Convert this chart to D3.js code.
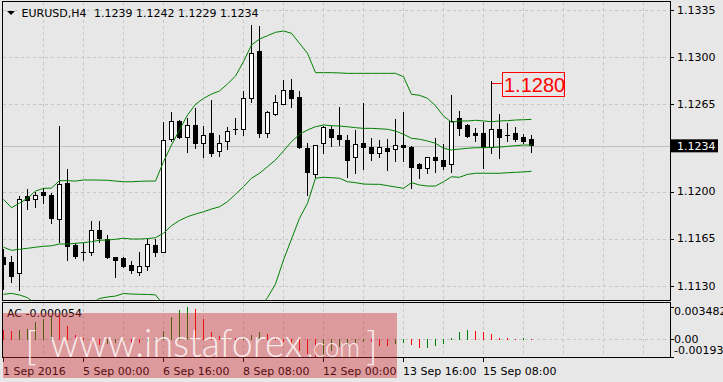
<!DOCTYPE html>
<html>
<head>
<meta charset="utf-8">
<script src="https://cdn.jsdelivr.net/npm/d3@7"></script>
<style>
html, body { margin: 0; padding: 0; background: #e7e7e7; overflow: hidden; }
svg { display: block; font-family: "DejaVu Sans", sans-serif; font-size: 11px; }
</style>
</head>
<body>
<script>
// EURUSD H4 candles, 1 Sep .. 16 Sep 2016
const openP = [1.1151,1.1147,1.1139,1.1196,1.1194,1.1199,1.1197,1.1179,1.1206,1.1160,
  1.1155,1.1155,1.1171,1.1164,1.1151,1.1150,1.1145,1.1140,1.1144,1.1160,
  1.1155,1.1239,1.1252,1.1240,1.1249,1.1236,1.1243,1.1230,1.1237,1.1246,
  1.1246,1.1269,1.1304,1.1243,1.1257,1.1265,1.1275,1.1270,1.1232,1.1213,
  1.1236,1.1246,1.1242,1.1238,1.1225,1.1236,1.1233,1.1228,1.1232,1.1231,
  1.1234,1.1233,1.1220,1.1217,1.1225,1.1223,1.1220,1.1254,1.1249,1.1243,
  1.1243,1.1233,1.1246,1.1242,1.1243,1.1240,1.1239];
const highP = [1.1157,1.1152,1.1197,1.1202,1.1200,1.1203,1.1199,1.1249,1.1217,1.1162,
  1.1162,1.1178,1.1178,1.1168,1.1151,1.1151,1.1148,1.1155,1.1165,1.1165,
  1.1252,1.1259,1.1253,1.1255,1.1262,1.1249,1.1268,1.1242,1.1248,1.1255,
  1.1275,1.1324,1.1323,1.1260,1.1272,1.1283,1.1284,1.1275,1.1236,1.1234,
  1.1249,1.1249,1.1263,1.1242,1.1246,1.1266,1.1240,1.1238,1.1239,1.1254,
  1.1259,1.1234,1.1221,1.1226,1.1240,1.1235,1.1272,1.1260,1.1250,1.1247,
  1.1252,1.1282,1.1258,1.1251,1.1248,1.1243,1.1242];
const lowP = [1.1127,1.1132,1.1126,1.1186,1.1188,1.1191,1.1176,1.1162,1.1148,1.1150,
  1.1148,1.1152,1.1162,1.1150,1.1136,1.1143,1.1139,1.1137,1.1141,1.1151,
  1.1155,1.1237,1.1239,1.1229,1.1232,1.1225,1.1226,1.1226,1.1231,1.1242,
  1.1241,1.1266,1.1240,1.1240,1.1256,1.1264,1.1262,1.1232,1.1197,1.1210,
  1.1228,1.1233,1.1234,1.1210,1.1213,1.1216,1.1223,1.1225,1.1215,1.1222,
  1.1222,1.1202,1.1209,1.1213,1.1214,1.1216,1.1214,1.1241,1.1240,1.1237,
  1.1217,1.1228,1.1224,1.1237,1.1237,1.1235,1.1229];
const closeP = [1.1146,1.1137,1.1194,1.1193,1.1197,1.1197,1.1180,1.1205,1.1159,1.1152,
  1.1155,1.1171,1.1165,1.1151,1.1149,1.1144,1.1141,1.1144,1.1161,1.1155,
  1.1238,1.1252,1.1240,1.1249,1.1236,1.1242,1.1228,1.1236,1.1245,1.1246,
  1.1269,1.1303,1.1243,1.1259,1.1266,1.1275,1.1269,1.1233,1.1214,1.1234,
  1.1248,1.1240,1.1239,1.1223,1.1235,1.1233,1.1228,1.1233,1.1230,1.1234,
  1.1233,1.1218,1.1217,1.1225,1.1223,1.1219,1.1252,1.1247,1.1241,1.1242,
  1.1233,1.1246,1.1240,1.1242,1.1239,1.1237,1.1234];

// Bollinger bands
const bbUpper = [1.11942,1.11880,1.11913,1.11950,1.12004,1.12024,1.12026,1.12081,1.12081,1.12078,
  1.12086,1.12086,1.12085,1.12084,1.12078,1.12073,1.12073,1.12076,1.12078,1.12078,
  1.12222,1.12346,1.12458,1.12569,1.12649,1.12693,1.12725,1.12748,1.12800,1.12859,
  1.12966,1.13090,1.13134,1.13159,1.13184,1.13194,1.13177,1.13102,1.13028,1.12884,
  1.12884,1.12884,1.12882,1.12879,1.12879,1.12879,1.12879,1.12879,1.12879,1.12879,
  1.12854,1.12723,1.12716,1.12693,1.12638,1.12562,1.12515,1.12525,1.12525,1.12530,
  1.12525,1.12519,1.12525,1.12527,1.12532,1.12534,1.12537];
const bbMiddle = [1.11586,1.11563,1.11571,1.11578,1.11586,1.11593,1.11597,1.11610,1.11610,1.11615,
  1.11620,1.11627,1.11638,1.11640,1.11645,1.11653,1.11647,1.11647,1.11650,1.11657,
  1.11690,1.11746,1.11785,1.11813,1.11833,1.11850,1.11870,1.11887,1.11925,1.11980,
  1.12036,1.12099,1.12136,1.12185,1.12235,1.12302,1.12371,1.12426,1.12458,1.12482,
  1.12495,1.12490,1.12487,1.12482,1.12475,1.12470,1.12470,1.12467,1.12463,1.12450,
  1.12426,1.12396,1.12389,1.12376,1.12359,1.12322,1.12309,1.12316,1.12322,1.12326,
  1.12326,1.12329,1.12331,1.12336,1.12341,1.12346,1.12346];
const bbLower = [1.11236,1.11243,1.11231,1.11211,1.11167,1.11162,1.11171,1.11139,1.11139,1.11151,
  1.11153,1.11168,1.11205,1.11216,1.11223,1.11242,1.11238,1.11236,1.11235,1.11232,
  1.11156,1.11146,1.11112,1.11057,1.11017,1.11007,1.11015,1.11027,1.11049,1.11100,
  1.11107,1.11108,1.11137,1.11211,1.11313,1.11491,1.11647,1.11801,1.11913,1.12099,
  1.12106,1.12103,1.12099,1.12073,1.12066,1.12056,1.12054,1.12054,1.12044,1.12034,
  1.12024,1.12066,1.12049,1.12041,1.12041,1.12073,1.12110,1.12106,1.12128,1.12136,
  1.12136,1.12136,1.12136,1.12140,1.12143,1.12146,1.12151];

// Accelerator oscillator
const acValues = [0.00096,0.00088,0.00090,0.00110,0.00180,0.00215,0.00250,0.00240,0.00135,0.00035,
  0.00010,-0.00050,-0.00055,-0.00045,-0.00040,-0.00020,-0.00035,-0.00040,-0.00030,-0.00005,
  0.00088,0.00230,0.00310,0.003482,0.00320,0.00210,0.00070,0.00025,0.00010,0.00005,
  0.00020,0.00035,0.00070,0.00046,0.00020,-0.00020,-0.00060,-0.00120,-0.00160,-0.00193,
  -0.00165,-0.00120,-0.00080,-0.00060,-0.00040,-0.00025,-0.00030,-0.00064,-0.00070,-0.00042,
  -0.00038,-0.00060,-0.00090,-0.00085,-0.00065,-0.00050,0.00005,0.00070,0.00096,0.00088,
  0.00070,0.00053,0.00010,0.00002,-0.00002,0.00004,-0.000054];

const timeIndex = [0, 10, 20, 30, 40, 50, 60];
const timeLabels = ["1 Sep 2016", "5 Sep 00:00", "6 Sep 16:00", "8 Sep 08:00",
  "12 Sep 00:00", "13 Sep 16:00", "15 Sep 08:00"];
const priceTicks = [1.1335, 1.1300, 1.1265, 1.1200, 1.1165, 1.1130];
const acTicks = [0.003482, 0, -0.00193];
const acTickLabels = ["0.003482", "0.00", "-0.00193"];
const bidPrice = 1.1234;
const markBar = 61;
const markPrice = 1.1280;

const svgWidth = 723, svgHeight = 382;
const left = 2.5, right = 670.5, mainTop = 1.5, mainBottom = 300.5;
const subTop = 302.5, subBottom = 357.5;
const green = "#008000", red = "#ff0000", gridColor = "#c6c6c6";

const svg = d3.select("body").append("svg")
  .attr("width", svgWidth)
  .attr("height", svgHeight);

const x = d3.scaleLinear().domain([0, 83]).range([3.5, 667.5]);
const y = d3.scaleLinear().domain([1.1130, 1.1335]).range([285.7, 10]);
const yAc = d3.scaleLinear().domain([-0.00193, 0.003482]).range([356.5, 306.5]);

const defs = svg.append("defs");
defs.append("clipPath").attr("id", "clipMain").append("rect")
  .attr("x", left).attr("y", mainTop).attr("width", right - left).attr("height", mainBottom - mainTop);
defs.append("clipPath").attr("id", "clipSub").append("rect")
  .attr("x", left).attr("y", subTop).attr("width", right - left).attr("height", subBottom - subTop);

const gridIdx = d3.range(5, 81, 5);

// main panel grid
const main = svg.append("g").attr("clip-path", "url(#clipMain)");
main.selectAll("line.vgrid").data(gridIdx).join("line")
  .attr("class", "vgrid")
  .attr("x1", d => x(d)).attr("x2", d => x(d))
  .attr("y1", mainTop).attr("y2", mainBottom)
  .attr("stroke", gridColor).attr("stroke-dasharray", "3,3")
  .attr("shape-rendering", "crispEdges");
main.selectAll("line.hgrid").data(priceTicks).join("line")
  .attr("class", "hgrid")
  .attr("x1", left).attr("x2", right)
  .attr("y1", d => Math.round(y(d)) + 0.5).attr("y2", d => Math.round(y(d)) + 0.5)
  .attr("stroke", gridColor).attr("stroke-dasharray", "3,3")
  .attr("shape-rendering", "crispEdges");
main.append("line")
  .attr("x1", left).attr("x2", right)
  .attr("y1", Math.round(y(bidPrice)) + 0.5).attr("y2", Math.round(y(bidPrice)) + 0.5)
  .attr("stroke", "#c0c0c0")
  .attr("shape-rendering", "crispEdges");

// candles
const bars = d3.range(openP.length);
const candles = main.selectAll("g.candle").data(bars).join("g").attr("class", "candle")
  .attr("shape-rendering", "crispEdges");
candles.append("line")
  .attr("x1", i => x(i)).attr("x2", i => x(i))
  .attr("y1", i => y(highP[i])).attr("y2", i => y(lowP[i]))
  .attr("stroke", "#000");
candles.filter(i => openP[i] !== closeP[i]).append("rect")
  .attr("x", i => x(i) - 2)
  .attr("width", 4)
  .attr("y", i => y(Math.max(openP[i], closeP[i])))
  .attr("height", i => Math.abs(y(openP[i]) - y(closeP[i])))
  .attr("fill", i => closeP[i] > openP[i] ? "#fff" : "#000")
  .attr("stroke", "#000");
candles.filter(i => openP[i] === closeP[i]).append("line")
  .attr("x1", i => x(i) - 2.5).attr("x2", i => x(i) + 2.5)
  .attr("y1", i => y(openP[i])).attr("y2", i => y(openP[i]))
  .attr("stroke", "#000");

// bollinger bands
const bandLine = d3.line().x((d, i) => x(i)).y(d => y(d));
[bbUpper, bbMiddle, bbLower].forEach(band => {
  main.append("path")
    .attr("d", bandLine(band))
    .attr("fill", "none")
    .attr("stroke", green)
    .attr("stroke-width", 1);
});

// 1.1280 marker
const markY = y(markPrice);
svg.append("line")
  .attr("x1", x(markBar)).attr("x2", 502.5)
  .attr("y1", markY).attr("y2", markY)
  .attr("stroke", red).attr("shape-rendering", "crispEdges");
svg.append("rect")
  .attr("x", 502.5).attr("y", markY - 11.5)
  .attr("width", 62).attr("height", 24)
  .attr("fill", "none").attr("stroke", red)
  .attr("shape-rendering", "crispEdges");
svg.append("text")
  .attr("x", 504).attr("y", markY + 7.8)
  .attr("font-family", "'Liberation Sans', Arial, sans-serif")
  .attr("font-size", 20)
  .attr("fill", red)
  .text(markPrice.toFixed(4));

// header
svg.append("path").attr("d", "M7,11 L15,11 L11,15 Z").attr("fill", "#000");
const last = openP.length - 1;
svg.append("text").attr("x", 21.5).attr("y", 16.5).attr("fill", "#000").text("EURUSD,H4");
svg.append("text").attr("x", 94).attr("y", 16.5).attr("fill", "#000")
  .text([openP[last], highP[last], lowP[last], closeP[last]].map(v => v.toFixed(4)).join(" "));

// sub panel
const sub = svg.append("g").attr("clip-path", "url(#clipSub)");
sub.selectAll("line.vgrid").data(gridIdx).join("line")
  .attr("class", "vgrid")
  .attr("x1", d => x(d)).attr("x2", d => x(d))
  .attr("y1", subTop).attr("y2", subBottom)
  .attr("stroke", gridColor).attr("stroke-dasharray", "3,3")
  .attr("shape-rendering", "crispEdges");
sub.append("line")
  .attr("x1", left).attr("x2", right)
  .attr("y1", Math.round(yAc(0)) + 0.5).attr("y2", Math.round(yAc(0)) + 0.5)
  .attr("stroke", gridColor).attr("stroke-dasharray", "3,3")
  .attr("shape-rendering", "crispEdges");
sub.selectAll("line.ac").data(acValues).join("line")
  .attr("class", "ac")
  .attr("x1", (d, i) => x(i)).attr("x2", (d, i) => x(i))
  .attr("y1", Math.round(yAc(0)) + 0.5)
  .attr("y2", d => Math.round(yAc(d)) + 0.5)
  .attr("stroke", (d, i) => i > 0 && d > acValues[i - 1] ? green : red)
  .attr("stroke-linecap", "square")
  .attr("shape-rendering", "crispEdges");

svg.append("text").attr("x", 7).attr("y", 317).attr("fill", "#000")
  .text("AC " + acValues[last].toFixed(6));

// frames
const frames = svg.append("g").attr("fill", "none").attr("stroke", "#000")
  .attr("shape-rendering", "crispEdges");
frames.append("rect").attr("x", left).attr("y", mainTop)
  .attr("width", right - left).attr("height", mainBottom - mainTop);
frames.append("rect").attr("x", left).attr("y", subTop)
  .attr("width", right - left).attr("height", subBottom - subTop);

// price axis
const axisG = svg.append("g").attr("shape-rendering", "crispEdges");
axisG.selectAll("line.pt").data(priceTicks).join("line")
  .attr("x1", right).attr("x2", right + 3)
  .attr("y1", d => Math.round(y(d)) + 0.5).attr("y2", d => Math.round(y(d)) + 0.5)
  .attr("stroke", "#000");
svg.selectAll("text.pl").data(priceTicks).join("text")
  .attr("class", "pl")
  .attr("x", 677).attr("y", d => y(d)).attr("dy", ".35em")
  .attr("fill", "#000")
  .text(d => d.toFixed(4));
svg.append("rect")
  .attr("x", right + 0.5).attr("y", y(bidPrice) - 6.5)
  .attr("width", 47).attr("height", 13)
  .attr("fill", "#000");
svg.append("text")
  .attr("x", 677).attr("y", y(bidPrice)).attr("dy", ".35em")
  .attr("fill", "#fff")
  .text(bidPrice.toFixed(4));

// AC axis
axisG.selectAll("line.at").data(acTicks).join("line")
  .attr("x1", right).attr("x2", right + 3)
  .attr("y1", d => Math.round(yAc(d)) + 0.5).attr("y2", d => Math.round(yAc(d)) + 0.5)
  .attr("stroke", "#000");
svg.selectAll("text.al").data(acTicks).join("text")
  .attr("class", "al")
  .attr("x", 674).attr("y", d => Math.max(311.5, Math.min(350.5, yAc(d)))).attr("dy", ".35em")
  .attr("fill", "#000")
  .text((d, i) => acTickLabels[i]);

// time axis
axisG.selectAll("line.tt").data(timeIndex).join("line")
  .attr("x1", d => x(d)).attr("x2", d => x(d))
  .attr("y1", subBottom).attr("y2", subBottom + 4)
  .attr("stroke", "#000");
svg.selectAll("text.tl").data(timeIndex).join("text")
  .attr("class", "tl")
  .attr("x", d => x(d) - 0.5).attr("y", 374.5)
  .attr("fill", "#000")
  .text((d, i) => timeLabels[i]);

// watermark
const wm = svg.append("g");
wm.append("rect")
  .attr("x", 3).attr("y", 313).attr("width", 394).attr("height", 65)
  .attr("fill", "rgb(205,40,45)").attr("fill-opacity", 0.4);
const wmText = wm.append("text")
  .attr("fill", "#fff").attr("fill-opacity", 0.82)
  .attr("font-family", "Lato, 'Open Sans', sans-serif")
  .attr("font-weight", 300)
  .attr("font-size", 40);
wmText.append("tspan").attr("x", 25).attr("y", 360).text("[");
wmText.append("tspan").attr("x", 50).attr("y", 357)
  .attr("textLength", 252).attr("lengthAdjust", "spacingAndGlyphs")
  .text("www.instaforex");
wmText.append("tspan").attr("x", 307).attr("y", 357).attr("font-size", 28)
  .attr("textLength", 53).attr("lengthAdjust", "spacingAndGlyphs")
  .text(".com");
wmText.append("tspan").attr("x", 366).attr("y", 360).text("]");
</script>
</body>
</html>
